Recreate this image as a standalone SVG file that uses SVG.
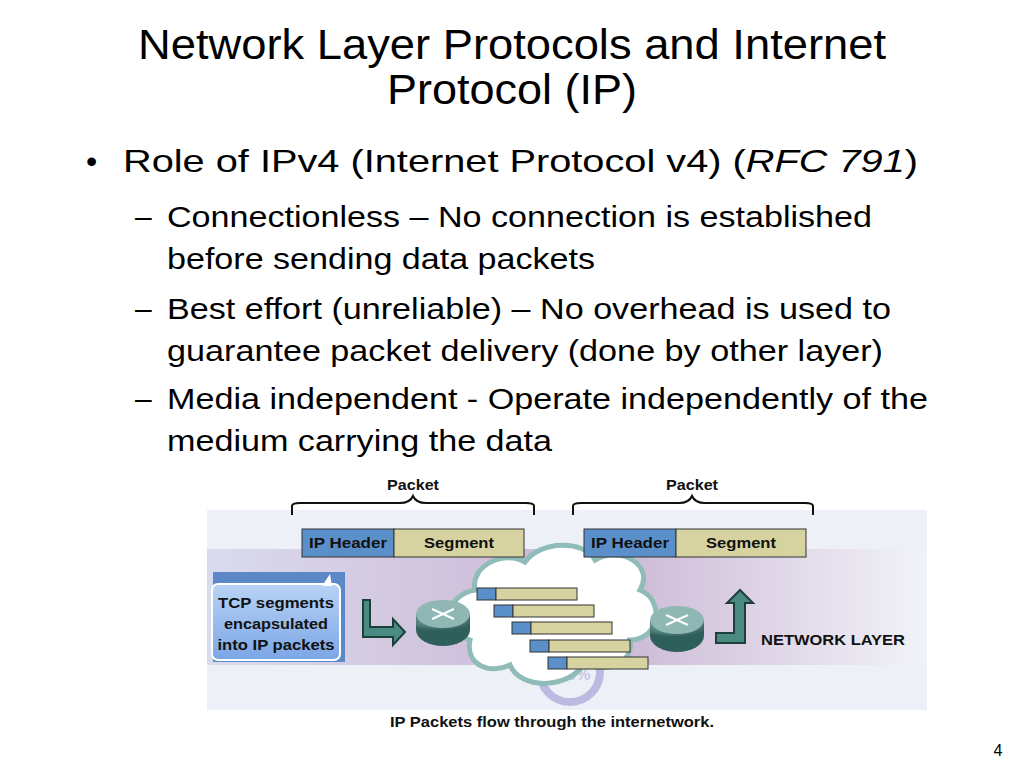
<svg xmlns="http://www.w3.org/2000/svg" width="1024" height="768" viewBox="0 0 1024 768">
<defs>
<style>
.t{font-family:"Liberation Sans",Arial,sans-serif;fill:#000}
.b{font-family:"Liberation Sans",Arial,sans-serif;font-weight:bold;fill:#111}
.hdr{fill:#5b8fc9;stroke:#333;stroke-width:1}
.seg{fill:#d6d3a0;stroke:#333;stroke-width:1}
.br{fill:none;stroke:#111;stroke-width:2}
.arr{fill:#4a8a80;stroke:#1d3f3a;stroke-width:2}
</style>
<linearGradient id="band" x1="0" x2="1" y1="0" y2="0">
<stop offset="0" stop-color="#d4d6ec"/><stop offset="0.25" stop-color="#cdbfdc"/><stop offset="0.55" stop-color="#c2a8cc"/><stop offset="1" stop-color="#f2f3f9"/>
</linearGradient>
<radialGradient id="rt" cx="0.4" cy="0.35" r="0.7"><stop offset="0" stop-color="#8fb8b4"/><stop offset="1" stop-color="#2f5f5a"/></radialGradient>
<linearGradient id="cb" x1="0" x2="0" y1="0" y2="1"><stop offset="0" stop-color="#b9d3f5"/><stop offset="1" stop-color="#7ba6e6"/></linearGradient>
</defs>
<rect width="1024" height="768" fill="#fff"/>
<text class="t" x="512" y="59" font-size="42" text-anchor="middle" textLength="748" lengthAdjust="spacingAndGlyphs">Network Layer Protocols and Internet</text>
<text class="t" x="512" y="104" font-size="42" text-anchor="middle" textLength="250" lengthAdjust="spacingAndGlyphs">Protocol (IP)</text>
<text class="t" x="86" y="172" font-size="32">•</text>
<text class="t" x="123" y="172" font-size="32" textLength="795" lengthAdjust="spacingAndGlyphs">Role of IPv4 (Internet Protocol v4) (<tspan font-style="italic">RFC 791</tspan>)</text>
<g class="t" font-size="30">
<text x="135" y="227">–</text><text x="167" y="227" textLength="705" lengthAdjust="spacingAndGlyphs">Connectionless – No connection is established</text>
<text x="167" y="269" textLength="428" lengthAdjust="spacingAndGlyphs">before sending data packets</text>
<text x="135" y="319">–</text><text x="167" y="319" textLength="724" lengthAdjust="spacingAndGlyphs">Best effort (unreliable) – No overhead is used to</text>
<text x="167" y="361" textLength="716" lengthAdjust="spacingAndGlyphs">guarantee packet delivery (done by other layer)</text>
<text x="135" y="409">–</text><text x="167" y="409" textLength="761" lengthAdjust="spacingAndGlyphs">Media independent - Operate independently of the</text>
<text x="167" y="451" textLength="385" lengthAdjust="spacingAndGlyphs">medium carrying the data</text>
</g>
<rect x="207" y="510" width="720" height="200" fill="#eef0f7"/>
<rect x="207" y="549" width="720" height="116" fill="url(#band)" opacity="0.8"/>
<circle cx="570" cy="672" r="30" fill="none" stroke="#a7a3d6" stroke-width="8" opacity="0.7"/>
<text x="570" y="680" font-family="Liberation Sans,Arial,sans-serif" font-weight="bold" font-size="16" text-anchor="middle" fill="#c8c4e6">100%</text>
<g id="cloud"><path d="M470,640 C440,630 445,595 475,590 C470,565 505,550 525,562 C540,540 585,540 595,560 C620,545 655,565 640,590 C665,600 660,640 630,640 C635,665 600,675 585,662 C570,690 520,690 510,665 C490,675 465,665 470,640 Z" fill="#fff" stroke="#8fbcb8" stroke-width="5"/></g>
<g id="packet1"><text class="b" x="413" y="490" font-size="15" text-anchor="middle" textLength="52" lengthAdjust="spacingAndGlyphs">Packet</text>
<path class="br" d="M292,515 V506 Q292,503 300,503 H400 Q410,503 413,496 Q416,503 426,503 H526 Q534,503 534,506 V515"/>
<rect class="hdr" x="302" y="529" width="92" height="28"/><rect class="seg" x="394" y="529" width="130" height="28"/>
<text class="b" x="348" y="548" font-size="15" text-anchor="middle" textLength="78" lengthAdjust="spacingAndGlyphs">IP Header</text><text class="b" x="459" y="548" font-size="15" text-anchor="middle" textLength="70" lengthAdjust="spacingAndGlyphs">Segment</text></g>
<g id="packet2"><text class="b" x="692" y="490" font-size="15" text-anchor="middle" textLength="52" lengthAdjust="spacingAndGlyphs">Packet</text>
<path class="br" d="M573,515 V506 Q573,503 581,503 H679 Q689,503 692,496 Q695,503 705,503 H805 Q813,503 813,506 V515"/>
<rect class="hdr" x="584" y="529" width="92" height="28"/><rect class="seg" x="676" y="529" width="130" height="28"/>
<text class="b" x="630" y="548" font-size="15" text-anchor="middle" textLength="78" lengthAdjust="spacingAndGlyphs">IP Header</text><text class="b" x="741" y="548" font-size="15" text-anchor="middle" textLength="70" lengthAdjust="spacingAndGlyphs">Segment</text></g>
<g id="flow">
<rect class="hdr" x="477" y="588" width="19" height="12"/><rect class="seg" x="496" y="588" width="81" height="12"/>
<rect class="hdr" x="494" y="605" width="19" height="12"/><rect class="seg" x="513" y="605" width="81" height="12"/>
<rect class="hdr" x="512" y="622" width="19" height="12"/><rect class="seg" x="531" y="622" width="81" height="12"/>
<rect class="hdr" x="530" y="640" width="19" height="12"/><rect class="seg" x="549" y="640" width="81" height="12"/>
<rect class="hdr" x="548" y="657" width="19" height="12"/><rect class="seg" x="567" y="657" width="81" height="12"/>
</g>
<g id="callout"><path d="M213,572 H345 V662 H213 Z" fill="#5c88c8"/>
<rect x="212" y="584" width="128" height="76" rx="6" fill="url(#cb)" stroke="#fff" stroke-width="2"/>
<path d="M322,586 L330,574 L332,586" fill="#fff"/>
<text class="b" x="276" y="608" font-size="15" text-anchor="middle" textLength="116" lengthAdjust="spacingAndGlyphs">TCP segments</text>
<text class="b" x="276" y="629" font-size="15" text-anchor="middle" textLength="104" lengthAdjust="spacingAndGlyphs">encapsulated</text>
<text class="b" x="276" y="650" font-size="15" text-anchor="middle" textLength="117" lengthAdjust="spacingAndGlyphs">into IP packets</text></g>
<g id="connectors">
<path class="arr" d="M363,600 H370 V627 H393 V619 L405,632 L393,645 V637 H363 Z"/>
<path class="arr" d="M716,633 H734 V603 H727 L740,590 L753,603 H745 V643 H716 Z"/>
</g>
<g id="router1"><ellipse cx="443" cy="630" rx="27" ry="16" fill="#2f5f5a"/><rect x="416" y="614" width="54" height="16" fill="url(#rt)"/><ellipse cx="443" cy="614" rx="27" ry="14" fill="#8fb8b4"/>
<path d="M432,609 L454,619 M454,609 L432,619" stroke="#fff" stroke-width="2"/></g>
<g id="router2"><ellipse cx="677" cy="636" rx="27" ry="16" fill="#2f5f5a"/><rect x="650" y="620" width="54" height="16" fill="url(#rt)"/><ellipse cx="677" cy="620" rx="27" ry="14" fill="#8fb8b4"/>
<path d="M666,615 L688,625 M688,615 L666,625" stroke="#fff" stroke-width="2"/></g>
<text class="b" x="833" y="645" font-size="15" text-anchor="middle" textLength="144" lengthAdjust="spacingAndGlyphs">NETWORK LAYER</text>
<text class="b" x="552" y="727" font-size="15" text-anchor="middle" textLength="324" lengthAdjust="spacingAndGlyphs">IP Packets flow through the internetwork.</text>
<text class="t" x="998" y="756" font-size="16" text-anchor="middle">4</text>
</svg>
